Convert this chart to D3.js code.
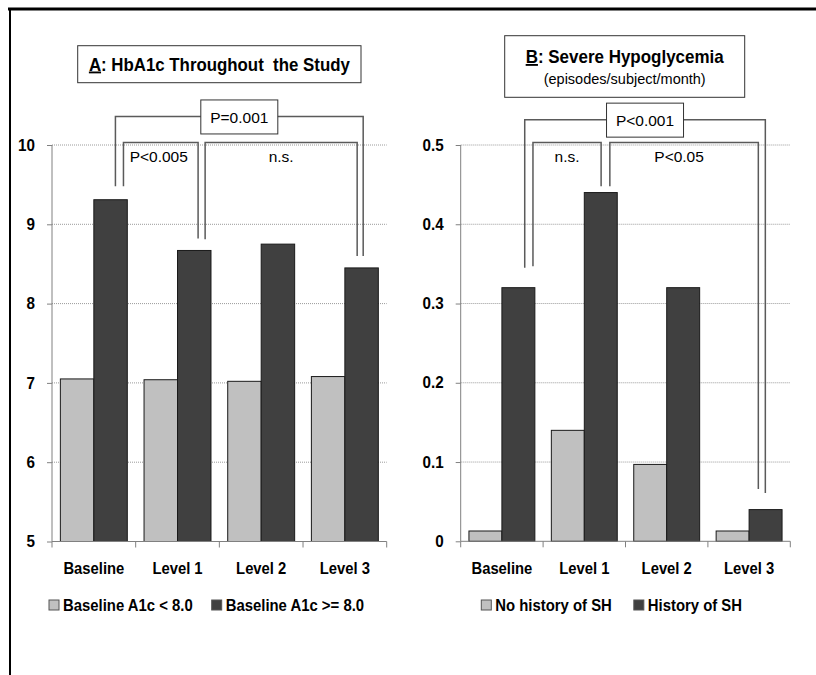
<!DOCTYPE html>
<html>
<head>
<meta charset="utf-8">
<script src="https://cdn.jsdelivr.net/npm/d3@7"></script>
<style>
  html, body { margin: 0; padding: 0; background: #fff; }
  svg { display: block; }
  text { font-family: "Liberation Sans", Arial, sans-serif; fill: #000; white-space: pre; }
</style>
</head>
<body>
<svg id="chart" width="816" height="675"></svg>
<script>
// ---------- data ----------
const categories = ["Baseline", "Level 1", "Level 2", "Level 3"];

const a1cBelow8 = [7.05, 7.04, 7.02, 7.08];
const a1cAbove8 = [9.31, 8.67, 8.75, 8.45];
const a1cTicks = [5, 6, 7, 8, 9, 10];
const a1cLegend = ["Baseline A1c < 8.0", "Baseline A1c >= 8.0"];

const shNoHistory = [0.013, 0.14, 0.097, 0.013];
const shHistory = [0.32, 0.44, 0.32, 0.04];
const shTicks = [0, 0.1, 0.2, 0.3, 0.4, 0.5];
const shLegend = ["No history of SH", "History of SH"];

// significance brackets (values in data units)
const a1cBrackets = [
  { label: "P=0.001", from: "Baseline", to: "Level 3", y: 10.36, yFrom: 9.48, yTo: 8.6, boxed: true },
  { label: "P<0.005", from: "Baseline", to: "Level 1", y: 10.03, yFrom: 9.48, yTo: 8.82, boxed: false },
  { label: "n.s.", from: "Level 1", to: "Level 3", y: 10.03, yFrom: 8.81, yTo: 8.6, boxed: false }
];
const shBrackets = [
  { label: "P<0.001", from: "Baseline", to: "Level 3", y: 0.532, yFrom: 0.345, yTo: 0.061, boxed: true },
  { label: "n.s.", from: "Baseline", to: "Level 1", y: 0.503, yFrom: 0.347, yTo: 0.448, boxed: false },
  { label: "P<0.05", from: "Level 1", to: "Level 3", y: 0.503, yFrom: 0.448, yTo: 0.066, boxed: false }
];

const lightFill = "#c0c0c0", darkFill = "#404040";

// ---------- drawing ----------
const svg = d3.select("#chart");

// horizontally condense a text (Calibri-like proportions); returns new width
function condense(sel, f) {
  let out = 0;
  sel.each(function () {
    const w = this.getComputedTextLength();
    out = w * f;
    d3.select(this).attr("textLength", w * f).attr("lengthAdjust", "spacingAndGlyphs");
  });
  return out;
}

// frame (cropped figure border)
svg.append("line").attr("x1", 8).attr("x2", 816).attr("y1", 9).attr("y2", 9)
  .attr("stroke", "#000").attr("stroke-width", 3);
svg.append("line").attr("x1", 10).attr("x2", 10).attr("y1", 8).attr("y2", 675)
  .attr("stroke", "#000").attr("stroke-width", 2);

function panel(cfg) {
  const g = svg.append("g");
  const x = d3.scaleBand().domain(categories).range([cfg.x0, cfg.x1]);
  const y = d3.scaleLinear().domain(cfg.domain).range([cfg.yBottom, cfg.yTop]);
  const bw = x.bandwidth();
  const barW = bw * 0.4;
  const pad = (bw - 2 * barW) / 2;

  // gridlines
  g.append("g").selectAll("line").data(cfg.ticks.slice(1)).join("line")
    .attr("x1", cfg.x0).attr("x2", cfg.x1)
    .attr("y1", d => y(d)).attr("y2", d => y(d))
    .attr("stroke", "#9a9a9a").attr("stroke-width", 1).attr("stroke-dasharray", "1,1");

  // bars
  const series = [
    { vals: cfg.s1, fill: lightFill, off: 0 },
    { vals: cfg.s2, fill: darkFill, off: 1 }
  ];
  series.forEach(s => {
    g.append("g").selectAll("rect").data(categories).join("rect")
      .attr("x", c => x(c) + pad + s.off * barW)
      .attr("y", (c, i) => y(s.vals[i]))
      .attr("width", barW)
      .attr("height", (c, i) => y(cfg.domain[0]) - y(s.vals[i]))
      .attr("fill", s.fill)
      .attr("stroke", "#1a1a1a").attr("stroke-width", 1);
  });

  // y axis
  const yAxis = d3.axisLeft(y).tickValues(cfg.ticks).tickSize(5).tickPadding(12)
    .tickFormat(cfg.fmt);
  const ya = g.append("g").attr("transform", `translate(${cfg.x0},0)`).call(yAxis);
  ya.select(".domain").attr("stroke", "#808080").attr("d", `M0,${cfg.yBottom}V${cfg.yTop}`);
  ya.selectAll(".tick line").attr("stroke", "#808080");
  ya.selectAll(".tick text").attr("font-size", 16).attr("font-weight", "bold")
    .attr("font-family", "Liberation Sans, Arial, sans-serif").attr("fill", "#000");
  ya.selectAll(".tick text").each(function () { condense(d3.select(this), 0.95); });

  // x axis
  const xa = g.append("g").attr("transform", `translate(0,${cfg.yBottom})`)
    .call(d3.axisBottom(x).tickSize(0).tickPadding(24));
  xa.select(".domain").attr("stroke", "#808080").attr("d", `M${cfg.x0},0H${cfg.x1}`);
  const xt = xa.selectAll(".tick text").attr("font-size", 17).attr("font-weight", "bold")
    .attr("font-family", "Liberation Sans, Arial, sans-serif").attr("fill", "#000")
    .attr("dy", "0.35em").attr("y", 27);
  xt.each(function () { condense(d3.select(this), 0.87); });
  const edges = categories.map(c => x(c)).concat([cfg.x1]);
  xa.append("g").selectAll("line").data(edges).join("line")
    .attr("x1", d => d).attr("x2", d => d).attr("y1", 0).attr("y2", 6)
    .attr("stroke", "#808080");

  // brackets
  const fx = (cat, f) => x(cat) + bw * f;
  cfg.brackets.forEach((b, i) => {
    const xl = fx(b.from, cfg.frac[i][0]);
    const xr = fx(b.to, cfg.frac[i][1]);
    const yy = y(b.y);
    const col = "#5a5a5a";
    g.append("path")
      .attr("d", `M${xl},${y(b.yFrom)}V${yy}H${xr}V${y(b.yTo)}`)
      .attr("fill", "none").attr("stroke", col).attr("stroke-width", 1.5);
    const mx = (xl + xr) / 2 + (cfg.labelShift[i] || 0);
    if (b.boxed) {
      g.append("rect").attr("x", mx - 38.5).attr("y", yy - 16.5)
        .attr("width", 77).attr("height", 34)
        .attr("fill", "#fff").attr("stroke", "#333").attr("stroke-width", 1);
      g.append("text").attr("x", mx).attr("y", yy + 6.5).attr("text-anchor", "middle")
        .attr("font-size", 15.5).text(b.label);
    } else {
      g.append("text").attr("x", mx).attr("y", yy + 19.5).attr("text-anchor", "middle")
        .attr("font-size", 15.5).text(b.label);
    }
  });

  // title box
  const t = cfg.title;
  g.append("rect").attr("x", t.x).attr("y", t.y).attr("width", t.w).attr("height", t.h)
    .attr("fill", "#fff").attr("stroke", "#333").attr("stroke-width", 1);
  const tt = g.append("text").attr("x", t.x + t.w / 2).attr("y", t.base)
    .attr("text-anchor", "middle").attr("font-size", 18.5).attr("font-weight", "bold");
  tt.append("tspan").attr("text-decoration", "underline").text(t.letter);
  tt.append("tspan").text(t.text);
  condense(tt, t.cond);
  if (t.sub) {
    g.append("text").attr("x", t.x + t.w / 2).attr("y", t.subBase)
      .attr("text-anchor", "middle").attr("font-size", 14.5).text(t.sub);
  }

  // legend
  let lx = cfg.legendX;
  const ly = cfg.legendY;
  cfg.legend.forEach((lab, i) => {
    g.append("rect").attr("x", lx).attr("y", ly - 5).attr("width", 10).attr("height", 10)
      .attr("fill", i === 0 ? lightFill : darkFill).attr("stroke", "#555").attr("stroke-width", 1);
    const txt = g.append("text").attr("x", lx + 14).attr("y", ly + 6)
      .attr("font-size", 17).attr("font-weight", "bold").text(lab);
    const w = condense(txt, 0.875);
    lx = lx + 14 + w + cfg.legendGap;
  });
}

panel({
  x0: 52, x1: 386.7, yTop: 145, yBottom: 541.5, domain: [5, 10],
  ticks: a1cTicks, fmt: d3.format("d"),
  s1: a1cBelow8, s2: a1cAbove8,
  brackets: a1cBrackets,
  frac: [[0.758, 0.719], [0.854, 0.746], [0.83, 0.647]],
  labelShift: [0, -2, 0],
  title: { x: 77.7, y: 45.7, w: 283.3, h: 37, base: 70.5, cond: 0.91, letter: "A", text: ": HbA1c Throughout  the Study" },
  legend: a1cLegend, legendX: 49, legendY: 605, legendGap: 19
});

panel({
  x0: 460.7, x1: 790.3, yTop: 145, yBottom: 541.3, domain: [0, 0.5],
  ticks: shTicks, fmt: d => d === 0 ? "0" : d3.format(".1f")(d),
  s1: shNoHistory, s2: shHistory,
  brackets: shBrackets,
  frac: [[0.777, 0.697], [0.877, 0.704], [0.81, 0.612]],
  labelShift: [0, 0, -5],
  title: { x: 504.7, y: 35.7, w: 240, h: 61.6, base: 63, cond: 0.917, letter: "B", text: ": Severe Hypoglycemia",
           sub: "(episodes/subject/month)", subBase: 84 },
  legend: shLegend, legendX: 481.3, legendY: 605, legendGap: 22
});
</script>
</body>
</html>
